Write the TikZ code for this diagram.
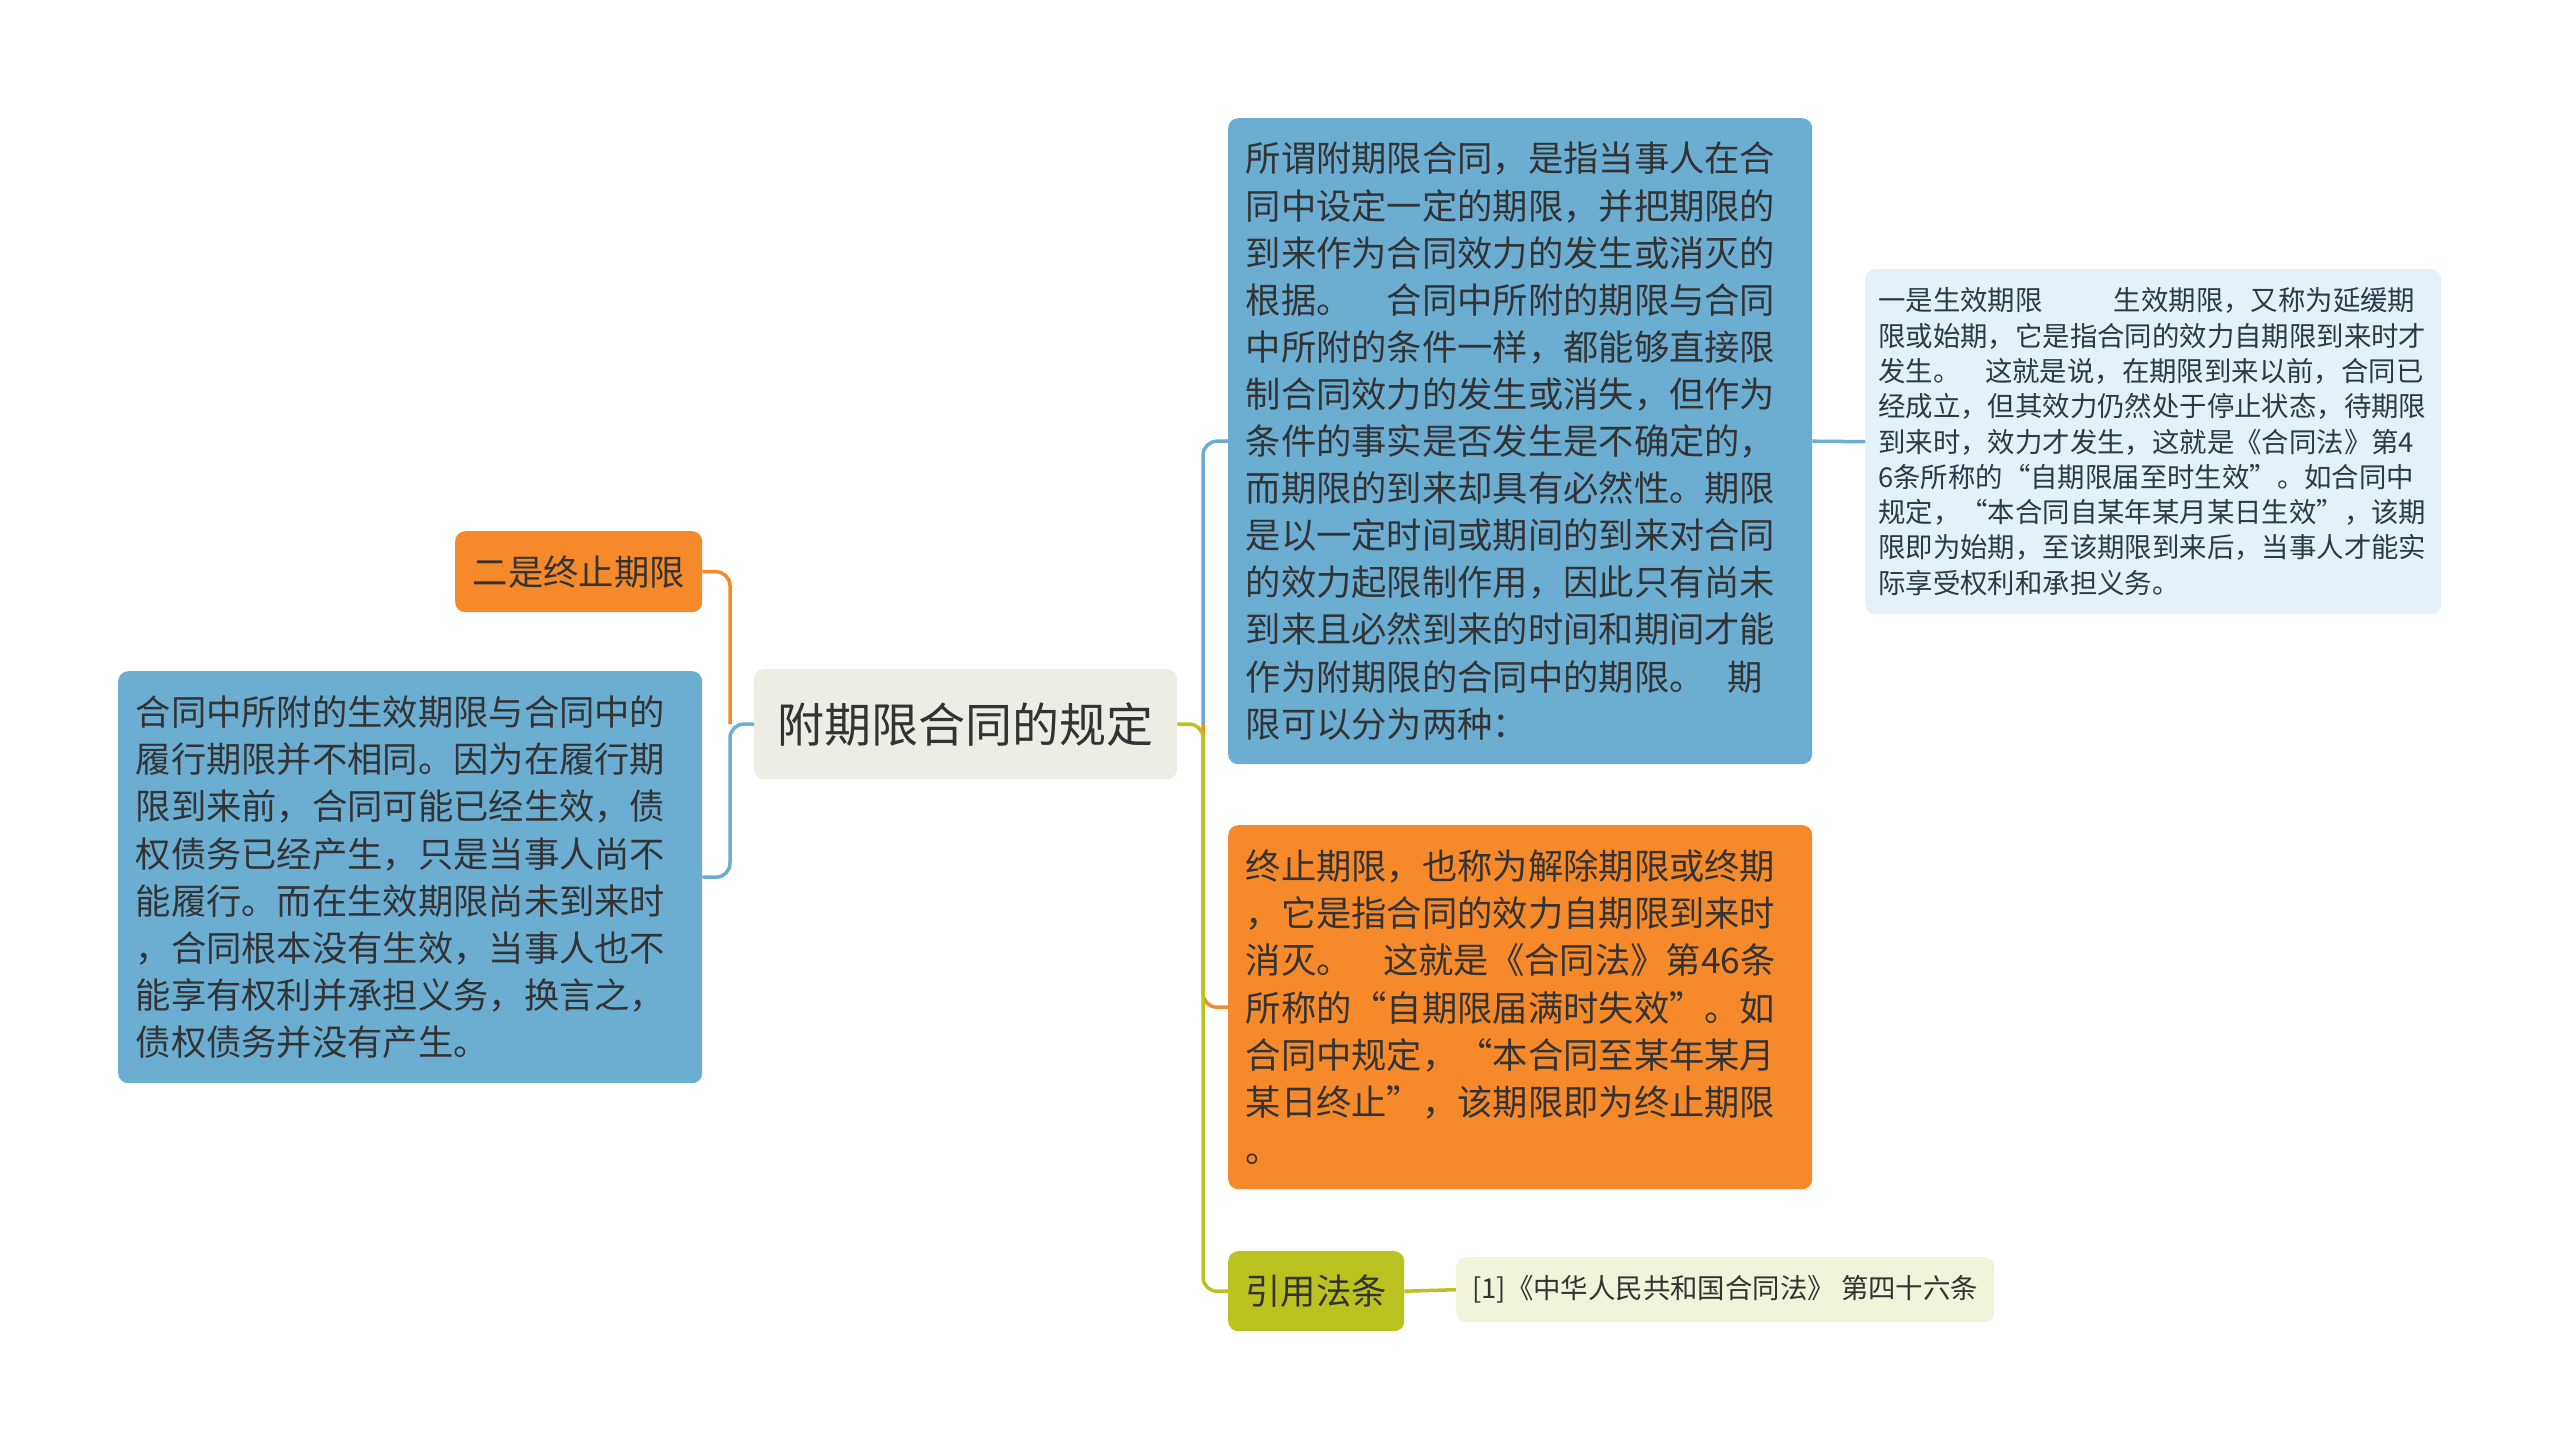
\documentclass[tikz,border=0pt]{standalone}
\usepackage{fontspec}
\setmainfont{Noto Sans CJK SC}
\definecolor{cblue}{HTML}{6BAED2}
\definecolor{corange}{HTML}{F68A2B}
\definecolor{colive}{HTML}{B9C21F}
\definecolor{clight}{HTML}{E4F1F8}
\definecolor{ccite}{HTML}{F1F3DA}
\definecolor{croot}{HTML}{EDEDE5}
\definecolor{txt}{HTML}{333333}
\definecolor{txtb}{HTML}{2A3B47}
\begin{document}
\begin{tikzpicture}[x=1pt,y=-1pt,
  box/.style={rounded corners=10pt, inner sep=0pt, anchor=north west, align=left, text=txt},
  big/.style={font=\fontsize{35.3}{47.1}\selectfont},
  small/.style={font=\fontsize{27.4}{35.3}\selectfont},
  conn/.style={line width=3.5pt, rounded corners=14pt},
]
\useasboundingbox[fill=white] (0,0) rectangle (2560,1449);

% root
\node[box, align=center, fill=croot, minimum width=423pt, minimum height=110pt,
  font=\fontsize{47}{56}\selectfont] (root) at (754,669) {附期限合同的规定};

% left side
\node[box, big, align=center, fill=corange, minimum width=247pt, minimum height=81pt] (t2) at (455,531) {二是终止期限};
\node[box, big, fill=cblue, minimum width=584pt, minimum height=412pt, text width=549pt] (b2) at (118,671) {合同中所附的生效期限与合同中的\\履行期限并不相同。因为在履行期\\限到来前，合同可能已经生效，债\\权债务已经产生，只是当事人尚不\\能履行。而在生效期限尚未到来时\\，合同根本没有生效，当事人也不\\能享有权利并承担义务，换言之，\\债权债务并没有产生。};

% right side
\node[box, big, fill=cblue, minimum width=584pt, minimum height=646pt, text width=549pt] (b1) at (1228,118) {所谓附期限合同，是指当事人在合\\同中设定一定的期限，并把期限的\\到来作为合同效力的发生或消灭的\\根据。\hspace{1em}合同中所附的期限与合同\\中所附的条件一样，都能够直接限\\制合同效力的发生或消失，但作为\\条件的事实是否发生是不确定的，\\而期限的到来却具有必然性。期限\\是以一定时间或期间的到来对合同\\的效力起限制作用，因此只有尚未\\到来且必然到来的时间和期间才能\\作为附期限的合同中的期限。\hspace{0.65em}期\\限可以分为两种：};

\node[box, small, text=txtb, fill=clight, minimum width=576pt, minimum height=345pt, text width=550pt] (lb) at (1865,269) {一是生效期限\hspace{2.6em}生效期限，又称为延缓期\\限或始期，它是指合同的效力自期限到来时才\\发生。\hspace{0.9em}这就是说，在期限到来以前，合同已\\经成立，但其效力仍然处于停止状态，待期限\\到来时，效力才发生，这就是《合同法》第4\\6条所称的“自期限届至时生效”。如合同中\\规定，“本合同自某年某月某日生效”，该期\\限即为始期，至该期限到来后，当事人才能实\\际享受权利和承担义务。};

\node[box, big, fill=corange, minimum width=584pt, minimum height=364pt, text width=549pt] (o1) at (1228,825) {终止期限，也称为解除期限或终期\\，它是指合同的效力自期限到来时\\消灭。\hspace{0.9em}这就是《合同法》第46条\\所称的“自期限届满时失效”。如\\合同中规定，“本合同至某年某月\\某日终止”，该期限即为终止期限\\。};

\node[box, big, align=center, fill=colive, minimum width=176pt, minimum height=80pt] (g1) at (1228,1251) {引用法条};
\node[box, small, align=center, fill=ccite, minimum width=538pt, minimum height=65pt] (c1) at (1456,1257) {[1]《中华人民共和国合同法》 第四十六条};

% connectors
\coordinate (jl) at (730,724);
\coordinate (jr) at (1203,724);
\draw[conn, corange] (jl) |- (t2.east);
\draw[conn, cblue] (root.west) -- (jl) |- (b2.east);
\draw[conn, cblue] (jr) |- (b1.west);
\draw[conn, corange] (jr) |- (o1.west);
\draw[conn, colive] (root.east) -- (jr) |- (g1.west);
\draw[conn, cblue] (b1.east) -- (lb.west);
\draw[conn, colive] (g1.east) -- (c1.west);
\end{tikzpicture}
\end{document}
